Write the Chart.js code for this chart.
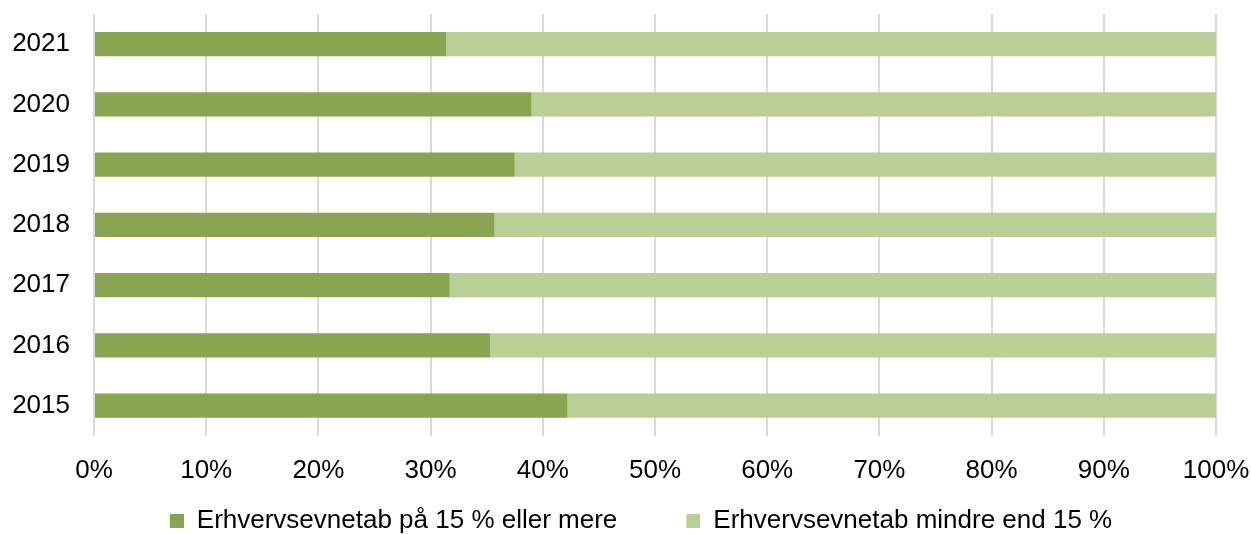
<!DOCTYPE html>
<html>
<head>
<meta charset="utf-8">
<script src="https://cdn.jsdelivr.net/npm/chart.js@4"></script>
<style>
html,body{margin:0;padding:0;background:#fff;}
#wrap{width:1251px;height:534px;position:relative;}
</style>
</head>
<body>
<div id="wrap"><canvas id="c"></canvas></div>
<script>
const categories = ['2021','2020','2019','2018','2017','2016','2015'];
const seriesNames = ['Erhvervsevnetab på 15 % eller mere','Erhvervsevnetab mindre end 15 %'];
const seriesHigh = [31.4, 39.0, 37.5, 35.7, 31.7, 35.3, 42.2];
const seriesLow = [68.6, 61.0, 62.5, 64.3, 68.3, 64.7, 57.8];
const xTicks = [0,10,20,30,40,50,60,70,80,90,100];
const colors = ['#8aa54f', '#b9cf96'];

const FONT = "'Liberation Sans', Arial, sans-serif";
const FS = 26;
const GAP = 66, BOX = 14;

function makeSwatch(color) {
  const cv = document.createElement('canvas');
  cv.width = GAP + BOX; cv.height = BOX;
  const cx = cv.getContext('2d');
  cx.fillStyle = color;
  cx.fillRect(GAP, 0, BOX, BOX);
  return cv;
}
const swatches = colors.map(makeSwatch);

new Chart(document.getElementById('c'), {
  type: 'bar',
  data: {
    labels: categories,
    datasets: [
      {label: seriesNames[0], data: seriesHigh, backgroundColor: colors[0], barPercentage: 0.4, categoryPercentage: 1},
      {label: seriesNames[1], data: seriesLow, backgroundColor: colors[1], barPercentage: 0.4, categoryPercentage: 1}
    ]
  },
  options: {
    indexAxis: 'y',
    responsive: true,
    maintainAspectRatio: false,
    animation: false,
    devicePixelRatio: 1,
    layout: {padding: {top: 14, right: 35, left: 0, bottom: -10}},
    scales: {
      x: {
        stacked: true, min: 0, max: 100,
        afterBuildTicks: s => { s.ticks = xTicks.map(v => ({value: v})); },
        afterFit: s => { s.paddingLeft = 0; s.paddingRight = 0; },
        grid: {color: '#d9d9d9', lineWidth: 2, drawTicks: false},
        border: {display: false},
        ticks: {padding: 19, color: '#000', font: {family: FONT, size: FS}, callback: v => v + '%'}
      },
      y: {
        stacked: true,
        grid: {display: false, drawTicks: false},
        border: {display: false},
        afterFit: s => { s.width = 94; s.paddingTop = 0; s.paddingBottom = 0; },
        ticks: {padding: 24, color: '#000', font: {family: FONT, size: FS}}
      }
    },
    plugins: {
      legend: {
        position: 'bottom',
        labels: {
          usePointStyle: true, pointStyleWidth: GAP + BOX, boxHeight: BOX, padding: 3,
          color: '#000', font: {family: FONT, size: FS},
          generateLabels: chart => {
            const items = Chart.defaults.plugins.legend.labels.generateLabels(chart);
            items.forEach((it, i) => { it.pointStyle = swatches[i]; });
            return items;
          }
        }
      },
      tooltip: {enabled: false}
    }
  }
});
</script>
</body>
</html>
